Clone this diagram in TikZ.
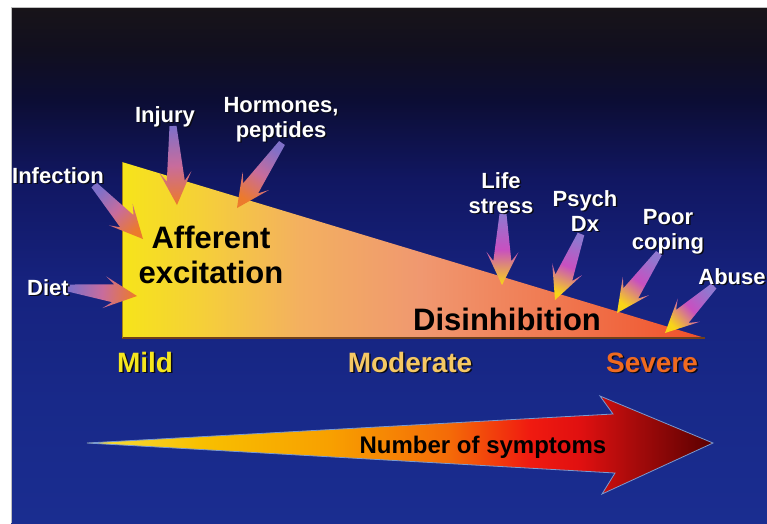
\documentclass[tikz,border=0pt]{standalone}
\usepackage{fontspec}
\setmainfont{Liberation Sans}
\usetikzlibrary{calc}

\definecolor{bg1}{HTML}{181419}
\definecolor{bg2}{HTML}{110F1F}
\definecolor{bg3}{HTML}{0C0D34}
\definecolor{bg4}{HTML}{111762}
\definecolor{bg5}{HTML}{16227E}
\definecolor{bg6}{HTML}{182989}
\definecolor{bg7}{HTML}{1A2D90}

\definecolor{tr1}{HTML}{F6E41A}
\definecolor{tr2}{HTML}{F5D038}
\definecolor{tr3}{HTML}{F3B060}
\definecolor{tr4}{HTML}{F09870}
\definecolor{tr5}{HTML}{F07A52}
\definecolor{tr6}{HTML}{F0502A}

\definecolor{ar1}{HTML}{F8E040}
\definecolor{ar2}{HTML}{F8C000}
\definecolor{ar3}{HTML}{F8A000}
\definecolor{ar4}{HTML}{F46A08}
\definecolor{ar5}{HTML}{F01A10}
\definecolor{ar6}{HTML}{E01010}
\definecolor{ar7}{HTML}{A00A0A}
\definecolor{ar8}{HTML}{5A0000}

\definecolor{ltail}{HTML}{8070C8}
\definecolor{rtail}{HTML}{9078D0}
\definecolor{lmid}{HTML}{C86C9C}
\definecolor{lhead}{HTML}{EC7A2C}
\definecolor{rmid}{HTML}{C850C0}
\definecolor{rhead}{HTML}{F8D418}
\definecolor{shadowc}{HTML}{0A0A14}
\definecolor{mildc}{HTML}{F5E61E}
\definecolor{modc}{HTML}{F5C864}
\definecolor{sevc}{HTML}{F06A20}
\definecolor{outl}{HTML}{7A9AD0}
\definecolor{edgec}{HTML}{70401A}

\pgfdeclareverticalshading{bgshade}{100bp}{color(0bp)=(bg7); color(25bp)=(bg7); color(36.9bp)=(bg6); color(48.5bp)=(bg5); color(58.2bp)=(bg4); color(66bp)=(bg3); color(70.8bp)=(bg2); color(75bp)=(bg1); color(100bp)=(bg1)}
\pgfdeclarehorizontalshading{trishade}{100bp}{color(0bp)=(tr1); color(25bp)=(tr1); color(31.7bp)=(tr2); color(40.3bp)=(tr3); color(50.6bp)=(tr4); color(61.7bp)=(tr5); color(75bp)=(tr6); color(100bp)=(tr6)}
\pgfdeclarehorizontalshading{bigshade}{100bp}{color(0bp)=(ar1); color(25bp)=(ar1); color(34bp)=(ar2); color(44.4bp)=(ar3); color(54bp)=(ar4); color(60.4bp)=(ar5); color(64.4bp)=(ar6); color(69.2bp)=(ar7); color(75bp)=(ar8); color(100bp)=(ar8)}

% #1 tail, #2 head point, #3 tail colour, #4 middle colour, #5 head colour
\newcommand\sarrow[5]{%
  \pgfmathanglebetweenpoints{\pgfpointanchor{#1}{center}}{\pgfpointanchor{#2}{center}}%
  \pgfmathsetmacro\myang{\pgfmathresult-90}%
  \shade[bottom color=#3, top color=#5, middle color=#4, shading angle=\myang]
    ($(#1)!3.5pt!90:(#2)$)
    -- ($(#2)!24pt!(#1)!9pt!270:(#1)$)
    -- ($(#2)!33pt!(#1)!16pt!270:(#1)$)
    -- (#2)
    -- ($(#2)!33pt!(#1)!16pt!90:(#1)$)
    -- ($(#2)!24pt!(#1)!9pt!90:(#1)$)
    -- ($(#1)!3.5pt!270:(#2)$) -- cycle;
}

\newcommand\shnode[4]{%
  \node[#1, text=shadowc] at ($(#3)+(1.5,1.5)$) {#4};
  \node[#1] (#2) at (#3) {#4};
}

\tikzset{
  lbl/.style={font=\fontsize{22}{25}\selectfont\bfseries, text=white, inner sep=0pt, align=center, anchor=base},
  bigtxt/.style={font=\fontsize{31}{35}\selectfont\bfseries, text=black, inner sep=0pt, align=center, anchor=base},
  sev/.style={font=\fontsize{28}{30}\selectfont\bfseries, inner sep=0pt, anchor=base},
  symtxt/.style={font=\fontsize{24}{26}\selectfont\bfseries, text=black, inner sep=0pt, anchor=base}
}

\begin{document}
\begin{tikzpicture}[x=1pt,y=-1pt]
\useasboundingbox[fill=white] (0,0) rectangle (767,523);
\shade[shading=bgshade] (11,7) rectangle (767,523);
\draw[gray!50, line width=0.8pt] (11,523) -- (11,7) -- (767,7);

% triangle
\coordinate (triA) at (122,162);
\coordinate (triB) at (705,338);
\coordinate (triC) at (122,338);
\shade[shading=trishade] (triA) -- (triB) -- (triC) -- cycle;
\draw[edgec, line width=1.5pt] (triC) -- (triB);
\draw[edgec!60!tr1, line width=0.8pt] (triC) -- (triA);

% small arrows
\coordinate (tInf) at (94,185);   \coordinate (hInf) at (143,239);
\coordinate (tDiet) at (68,288);  \coordinate (hDiet) at (137,296);
\coordinate (tInj) at (173,126);  \coordinate (hInj) at (177,205);
\coordinate (tHor) at (282,143);  \coordinate (hHor) at (237,208);
\coordinate (tLife) at (503,214); \coordinate (hLife) at (502,285);
\coordinate (tPsy) at (581,234);  \coordinate (hPsy) at (555,300);
\coordinate (tPoor) at (659,253); \coordinate (hPoor) at (617,313);
\coordinate (tAbu) at (714,286);  \coordinate (hAbu) at (665,333);

\sarrow{tInf}{hInf}{ltail}{lmid}{lhead}
\sarrow{tDiet}{hDiet}{ltail}{lmid}{lhead}
\sarrow{tInj}{hInj}{ltail}{lmid}{lhead}
\sarrow{tHor}{hHor}{ltail}{lmid}{lhead}
\sarrow{tLife}{hLife}{rtail}{rmid}{rhead}
\sarrow{tPsy}{hPsy}{rtail}{rmid}{rhead}
\sarrow{tPoor}{hPoor}{rtail}{rmid}{rhead}
\sarrow{tAbu}{hAbu}{rtail}{rmid}{rhead}

% texts in triangle
\node[bigtxt] (aff) at (211,283) {Afferent\\excitation};
\node[bigtxt] (dis) at (507,330) {Disinhibition};

% labels
\shnode{lbl}{lInf}{58,183}{Infection}
\shnode{lbl}{lDiet}{48,295}{Diet}
\shnode{lbl}{lInj}{165,122}{Injury}
\shnode{lbl}{lHor}{281,137}{Hormones,\\peptides}
\shnode{lbl}{lLife}{501,213}{Life\\stress}
\shnode{lbl}{lPsy}{585,231}{Psych\\Dx}
\shnode{lbl}{lPoor}{668,249}{Poor\\coping}
\shnode{lbl}{lAbu}{732,284}{Abuse}

% severity
\shnode{sev, text=mildc}{mild}{145,372}{Mild}
\shnode{sev, text=modc}{mod}{410,372}{Moderate}
\shnode{sev, text=sevc}{sevr}{652,372}{Severe}

% big arrow
\coordinate (bTail) at (87,443);
\coordinate (bTop) at (613,414);
\coordinate (bHT) at (600,396);
\coordinate (bTip) at (713,443);
\coordinate (bHB) at (602,494);
\coordinate (bBot) at (615,473);
\shade[shading=bigshade] (bTail) -- (bTop) -- (bHT) -- (bTip) -- (bHB) -- (bBot) -- cycle;
\draw[outl, line width=0.8pt, line join=miter] (bTail) -- (bTop) -- (bHT) -- (bTip) -- (bHB) -- (bBot) -- cycle;
\node[symtxt] (sym) at (483,453) {Number of symptoms};
\end{tikzpicture}
\end{document}
